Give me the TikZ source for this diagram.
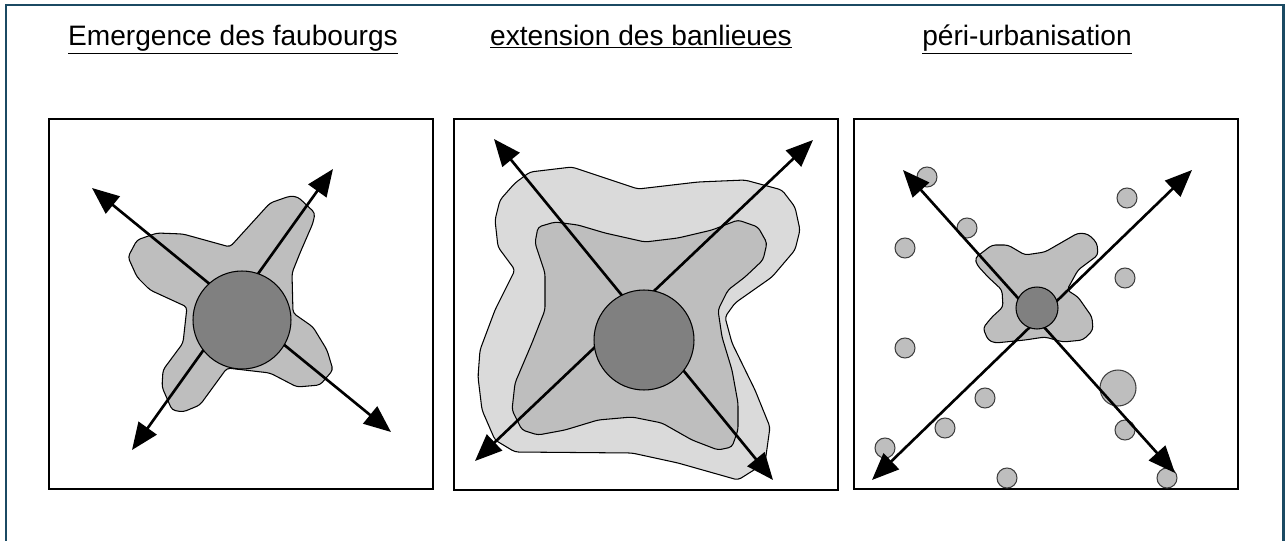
\documentclass[tikz,border=0pt]{standalone}
\usepackage{fontspec}
\setmainfont{Liberation Sans}
\usetikzlibrary{arrows.meta, positioning}

\definecolor{framenavy}{HTML}{1B4A63}
\definecolor{zonelight}{HTML}{DADADA}
\definecolor{zonemid}{HTML}{BEBEBE}
\definecolor{zonecore}{HTML}{808080}

\begin{document}
\begin{tikzpicture}[
    x=0.02cm, y=-0.02cm,
    title/.style = {
        font=\fontsize{16}{19}\selectfont,
        inner sep=0pt,
        anchor=base
    },
    panel/.style = {draw=black, line width=1.6pt},
    zone/.style = {draw=black, line width=0.6pt, fill=#1, rounded corners=2pt},
    core/.style = {
        circle,
        draw=black,
        line width=0.6pt,
        fill=zonecore,
        minimum size=#1,
        inner sep=0pt
    },
    satellite/.style = {
        circle,
        draw=black!75,
        line width=0.6pt,
        fill=zonemid,
        minimum size=#1,
        inner sep=0pt
    },
    axis/.style = {
        {Triangle[length=0.54cm,width=0.44cm]}-{Triangle[length=0.54cm,width=0.44cm]},
        line width=1.5pt
    }
]

\useasboundingbox (0,0) rectangle (1285,541);
\draw[framenavy, line width=1.7pt] (6,541) -- (6,5) -- (1283,5) -- (1283,541);

% titres
\node[title] (t1) at (233,45) {\underline{Emergence des faubourgs}};
\node[title] (t2) at (641,45) {\underline{extension des banlieues}};
\node[title] (t3) at (1027,45) {\underline{péri-urbanisation}};

% cadres
\draw[panel] (49,119) rectangle (433,489);
\draw[panel] (454,119) rectangle (838,490);
\draw[panel] (854,119) rectangle (1238,489);

% 1 : faubourgs
\draw[zone=zonemid] (128,257) -- (137,240) -- (157,233) -- (183,234) -- (230,247)
    -- (270,203) -- (290,196) -- (298,197) -- (315,213) -- (313,223) -- (300,253)
    -- (292,273) -- (293,313) -- (313,327) -- (327,350) -- (333,370) -- (320,385)
    -- (297,387) -- (270,373) -- (227,368) -- (200,405) -- (183,412) -- (172,410)
    -- (162,387) -- (163,370) -- (183,343) -- (187,307) -- (150,290) -- (137,277) -- cycle;

\coordinate (a1nw) at (92,188);
\coordinate (a1ne) at (333,169);
\coordinate (a1sw) at (132,450);
\coordinate (a1se) at (391,432);
\draw[axis] (a1nw) -- (a1se);
\draw[axis] (a1sw) -- (a1ne);
\node[core=1.96cm] (c1) at (242,320) {};

% 2 : banlieues
\draw[zone=zonelight] (500,200) -- (495,220) -- (498,247) -- (515,270) -- (495,310)
    -- (480,350) -- (478,377) -- (482,410) -- (495,440) -- (515,452) -- (632,453)
    -- (678,463) -- (738,480) -- (765,463) -- (770,427) -- (755,390) -- (732,343)
    -- (725,317) -- (735,303) -- (772,277) -- (795,250) -- (800,230) -- (795,207)
    -- (782,190) -- (745,180) -- (698,182) -- (638,189) -- (572,167) -- (530,172)
    -- (515,183) -- cycle;
\draw[zone=zonemid] (538,227) -- (555,222) -- (578,225) -- (605,233) -- (645,242)
    -- (678,238) -- (712,230) -- (738,220) -- (758,227) -- (767,243) -- (763,260)
    -- (745,277) -- (728,290) -- (718,310) -- (722,337) -- (732,370) -- (738,403)
    -- (738,430) -- (732,447) -- (718,450) -- (692,440) -- (662,423) -- (632,417)
    -- (598,420) -- (565,430) -- (538,435) -- (522,430) -- (512,410) -- (515,383)
    -- (532,343) -- (545,310) -- (545,273) -- (535,243) -- cycle;

\coordinate (a2nw) at (494,139);
\coordinate (a2ne) at (813,140);
\coordinate (a2sw) at (475,461);
\coordinate (a2se) at (773,480);
\draw[axis] (a2nw) -- (a2se);
\draw[axis] (a2sw) -- (a2ne);
\node[core=2cm] (c2) at (644,340) {};

% 3 : peri-urbanisation
\draw[zone=zonemid] (975,258) -- (992,245) -- (1008,245) -- (1025,255) -- (1045,252)
    -- (1078,233) -- (1088,234) -- (1097,243) -- (1098,255) -- (1078,270) -- (1067,290)
    -- (1078,297) -- (1092,317) -- (1093,330) -- (1083,340) -- (1063,342) -- (1045,337)
    -- (1025,340) -- (995,343) -- (988,340) -- (983,328) -- (992,317) -- (1003,307)
    -- (1002,290) -- (988,277) -- (977,265) -- cycle;

\foreach \px/\py [count=\i] in {927/177, 967/228, 905/248, 1127/198, 1125/278,
    905/348, 985/398, 945/428, 1125/430, 885/448, 1007/478, 1167/478}
    \node[satellite=0.4cm] (s\i) at (\px,\py) {};
\node[satellite=0.72cm] (s13) at (1118,388) {};

\coordinate (a3nw) at (903,170);
\coordinate (a3ne) at (1192,170);
\coordinate (a3sw) at (872,480);
\coordinate (a3se) at (1175,473);
\draw[axis] (a3nw) -- (a3se);
\draw[axis] (a3sw) -- (a3ne);
\node[core=0.84cm] (c3) at (1037,308) {};

\end{tikzpicture}
\end{document}
